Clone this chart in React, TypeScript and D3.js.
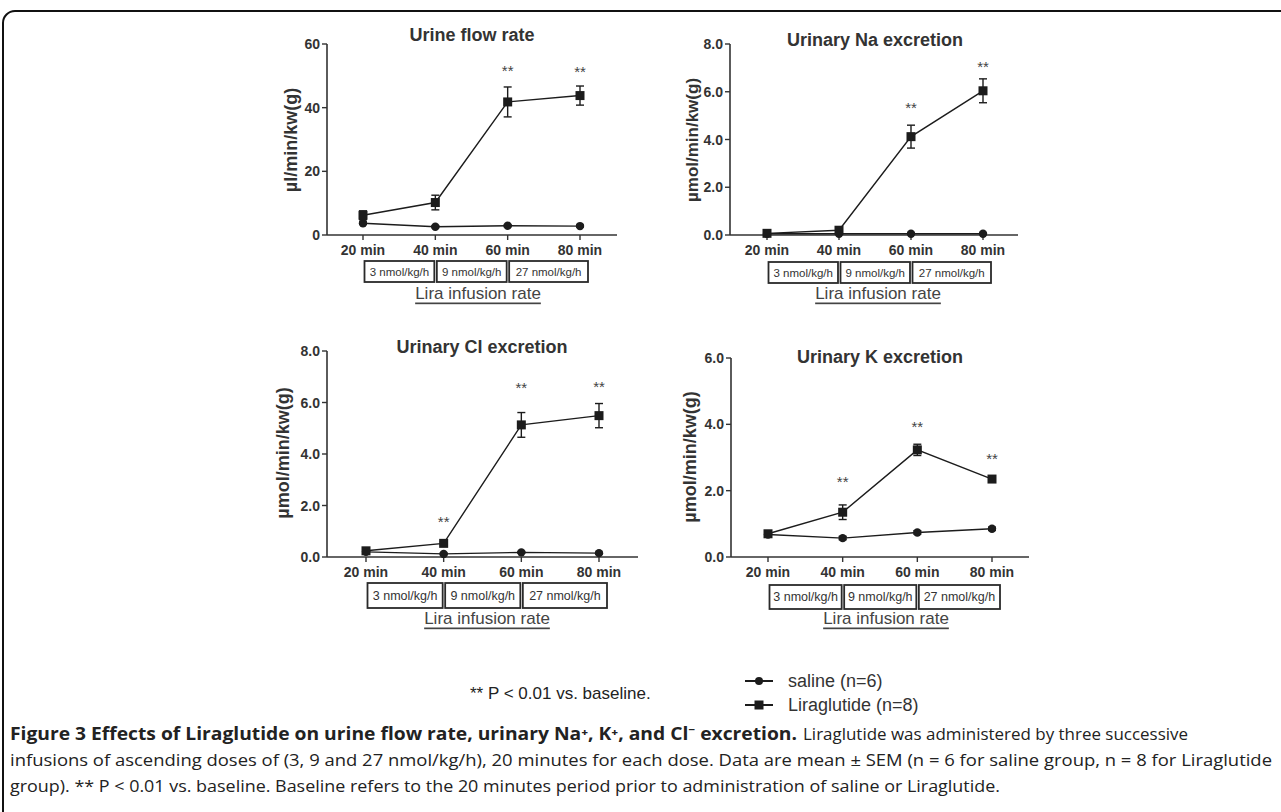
import React from 'react';
import * as d3 from 'd3';

// x categories and the dose boxes under them
const categories = ['20 min', '40 min', '60 min', '80 min'];
const doseLabels = ['3 nmol/kg/h', '9 nmol/kg/h', '27 nmol/kg/h'];

// Urine flow rate
const urineLira = [6.2, 10.2, 41.8, 43.8];
const urineLiraErr = [1.4, 2.3, 4.7, 3.0];
const urineSaline = [3.7, 2.6, 2.9, 2.8];
const urineSalineErr = [0.4, 0.3, 0.3, 0.3];
const urineStars = [null, null, 51.6, 51.3];
const urineTicks = [0, 20, 40, 60];

// Urinary Na excretion
const naLira = [0.07, 0.2, 4.12, 6.04];
const naLiraErr = [0.03, 0.05, 0.48, 0.5];
const naSaline = [0.05, 0.05, 0.05, 0.05];
const naSalineErr = [0.02, 0.02, 0.02, 0.02];
const naStars = [null, null, 5.36, 7.04];
const naTicks = [0, 2, 4, 6, 8];

// Urinary Cl excretion
const clLira = [0.24, 0.53, 5.13, 5.49];
const clLiraErr = [0.05, 0.06, 0.48, 0.47];
const clSaline = [0.2, 0.12, 0.18, 0.15];
const clSalineErr = [0.03, 0.03, 0.03, 0.03];
const clStars = [null, 1.36, 6.59, 6.64];
const clTicks = [0, 2, 4, 6, 8];

// Urinary K excretion
const kLira = [0.7, 1.35, 3.23, 2.35];
const kLiraErr = [0.08, 0.22, 0.17, 0.08];
const kSaline = [0.68, 0.57, 0.74, 0.85];
const kSalineErr = [0.08, 0.05, 0.05, 0.05];
const kStars = [null, 2.27, 3.93, 2.98];
const kTicks = [0, 2, 4, 6];

const INK = '#1c1c1c';
const TEXT = '#333';
const ARIAL = '"Liberation Sans", Arial, sans-serif';

interface PanelProps {
  title: string;
  yLabel: string;
  yTicks: number[];
  fmt: (v: number) => string;
  lira: number[];
  liraErr: number[];
  saline: number[];
  salineErr: number[];
  stars: (number | null)[];
  frame: {
    axisX: number; firstX: number; lastX: number; endX: number;
    y0: number; yTop: number;
    titleX: number; titleY: number;
    yLabelX: number; yLabelY: number; yLabelSize: number;
    boxTop: number; boxH: number; boxFont: number;
    rateX: number; rateY: number;
  };
}

function Panel({ title, yLabel, yTicks, fmt, lira, liraErr, saline, salineErr, stars, frame: f }: PanelProps) {
  const x = d3.scalePoint<string>().domain(categories).range([f.firstX, f.lastX]);
  const y = d3.scaleLinear().domain([0, yTicks[yTicks.length - 1]]).range([f.y0, f.yTop]);
  const line = d3.line<number>().x((_, i) => x(categories[i])!).y(d => y(d));

  const errBars = (vals: number[], errs: number[]) =>
    vals.map((v, i) => {
      const cx = x(categories[i])!;
      const top = y(v + errs[i]);
      const bot = y(v - errs[i]);
      return (
        <g key={i} stroke={INK} strokeWidth={1.4}>
          <line x1={cx} x2={cx} y1={top} y2={bot} />
          <line x1={cx - 4} x2={cx + 4} y1={top} y2={top} />
          <line x1={cx - 4} x2={cx + 4} y1={bot} y2={bot} />
        </g>
      );
    });

  return (
    <g>
      <text x={f.titleX} y={f.titleY} textAnchor="middle" dominantBaseline="central"
        fontFamily={ARIAL} fontWeight="bold" fontSize={18} fill={TEXT}>{title}</text>

      {/* y axis */}
      <line x1={f.axisX} x2={f.axisX} y1={f.y0} y2={f.yTop} stroke={TEXT} strokeWidth={1.6} />
      {yTicks.map(t => (
        <g key={t}>
          <line x1={f.axisX - 5} x2={f.axisX} y1={y(t)} y2={y(t)} stroke={TEXT} strokeWidth={1.4} />
          <text x={f.axisX - 7} y={y(t)} textAnchor="end" dominantBaseline="central"
            fontFamily={ARIAL} fontWeight="bold" fontSize={14} fill={TEXT}>{fmt(t)}</text>
        </g>
      ))}
      <text transform={`translate(${f.yLabelX},${f.yLabelY}) rotate(-90)`} textAnchor="middle"
        dominantBaseline="central" fontFamily={ARIAL} fontWeight="bold" fontSize={f.yLabelSize} fill={TEXT}>{yLabel}</text>

      {/* x axis */}
      <line x1={f.axisX} x2={f.endX} y1={f.y0} y2={f.y0} stroke={TEXT} strokeWidth={1.6} />
      {categories.map(c => (
        <g key={c}>
          <line x1={x(c)} x2={x(c)} y1={f.y0} y2={f.y0 + 5} stroke={TEXT} strokeWidth={1.4} />
          <text x={x(c)} y={f.y0 + 15} textAnchor="middle" dominantBaseline="central"
            fontFamily={ARIAL} fontWeight="bold" fontSize={14} fill={TEXT}>{c}</text>
        </g>
      ))}

      {/* dose boxes */}
      {doseLabels.map((d, i) => {
        const x1 = x(categories[i])! + 1.5;
        const x2 = i === doseLabels.length - 1 ? x(categories[i + 1])! + 8 : x(categories[i + 1])! - 1;
        return (
          <g key={d}>
            <rect x={x1} y={f.boxTop} width={x2 - x1} height={f.boxH} fill="#fff" stroke="#2a2a2a" strokeWidth={1.8} />
            <text x={(x1 + x2) / 2} y={f.boxTop + f.boxH / 2} textAnchor="middle" dominantBaseline="central"
              fontFamily={ARIAL} fontSize={f.boxFont} fill={TEXT}>{d}</text>
          </g>
        );
      })}
      <text x={f.rateX} y={f.rateY} textAnchor="middle" dominantBaseline="central"
        fontFamily={ARIAL} fontSize={17} fill="#444" textDecoration="underline">Lira infusion rate</text>

      {/* saline */}
      <path d={line(saline)!} fill="none" stroke={INK} strokeWidth={1.4} />
      {errBars(saline, salineErr)}
      {saline.map((v, i) => (
        <circle key={i} cx={x(categories[i])} cy={y(v)} r={4.2} fill={INK} />
      ))}

      {/* liraglutide */}
      <path d={line(lira)!} fill="none" stroke={INK} strokeWidth={1.4} />
      {errBars(lira, liraErr)}
      {lira.map((v, i) => (
        <rect key={i} x={x(categories[i])! - 4.5} y={y(v) - 4.5} width={9} height={9} fill={INK} />
      ))}

      {stars.map((s, i) => s === null ? null : (
        <text key={i} x={x(categories[i])} y={y(s)} textAnchor="middle" dominantBaseline="central"
          fontFamily={ARIAL} fontSize={15} fill="#444">**</text>
      ))}
    </g>
  );
}

const f1 = d3.format('d');
const f2 = d3.format('.1f');

export default function App() {
  return (
    <svg width={1281} height={812} style={{ position: 'absolute', left: 0, top: 0, background: '#fff' }}>
      <rect width={1281} height={812} fill="#fff" />
      <path d="M3,830 L3,23 A12,12 0 0 1 15,11 L1300,11" fill="none" stroke="#111" strokeWidth={2} />

      <Panel title="Urine flow rate" yLabel="µl/min/kw(g)" yTicks={urineTicks} fmt={f1}
        lira={urineLira} liraErr={urineLiraErr} saline={urineSaline} salineErr={urineSalineErr} stars={urineStars}
        frame={{ axisX: 327, firstX: 363, lastX: 580, endX: 617, y0: 235, yTop: 44,
          titleX: 472, titleY: 35, yLabelX: 291, yLabelY: 140, yLabelSize: 18,
          boxTop: 261, boxH: 21, boxFont: 11.5, rateX: 478, rateY: 293 }} />

      <Panel title="Urinary Na excretion" yLabel="µmol/min/kw(g)" yTicks={naTicks} fmt={f2}
        lira={naLira} liraErr={naLiraErr} saline={naSaline} salineErr={naSalineErr} stars={naStars}
        frame={{ axisX: 730, firstX: 767, lastX: 983, endX: 1018, y0: 235, yTop: 44,
          titleX: 875, titleY: 40, yLabelX: 692, yLabelY: 140, yLabelSize: 17,
          boxTop: 262, boxH: 21, boxFont: 11.5, rateX: 878, rateY: 293 }} />

      <Panel title="Urinary Cl excretion" yLabel="µmol/min/kw(g)" yTicks={clTicks} fmt={f2}
        lira={clLira} liraErr={clLiraErr} saline={clSaline} salineErr={clSalineErr} stars={clStars}
        frame={{ axisX: 327, firstX: 366, lastX: 599, endX: 638, y0: 557, yTop: 351,
          titleX: 482, titleY: 347, yLabelX: 283, yLabelY: 453, yLabelSize: 18,
          boxTop: 583, boxH: 25, boxFont: 12.5, rateX: 487, rateY: 618 }} />

      <Panel title="Urinary K excretion" yLabel="µmol/min/kw(g)" yTicks={kTicks} fmt={f2}
        lira={kLira} liraErr={kLiraErr} saline={kSaline} salineErr={kSalineErr} stars={kStars}
        frame={{ axisX: 731, firstX: 768, lastX: 992, endX: 1029, y0: 557, yTop: 358,
          titleX: 880, titleY: 357, yLabelX: 690, yLabelY: 457, yLabelSize: 18,
          boxTop: 585, boxH: 24, boxFont: 12.5, rateX: 886, rateY: 618 }} />

      {/* significance note + legend */}
      <text x={470} y={693} dominantBaseline="central" fontFamily={ARIAL} fontSize={17} fill="#222">** P &lt; 0.01 vs. baseline.</text>
      <g stroke={INK} strokeWidth={2}>
        <line x1={745} x2={773} y1={681} y2={681} />
        <line x1={745} x2={773} y1={705} y2={705} />
      </g>
      <circle cx={759} cy={681} r={4} fill={INK} />
      <rect x={754.5} y={700.5} width={9} height={9} fill={INK} />
      <text x={788} y={681} dominantBaseline="central" fontFamily={ARIAL} fontSize={18} fill="#333">saline (n=6)</text>
      <text x={788} y={705} dominantBaseline="central" fontFamily={ARIAL} fontSize={18} fill="#333">Liraglutide (n=8)</text>

      {/* caption */}
      <g fontFamily="'Open Sans', 'Noto Sans', sans-serif" fontSize={17} fill="#222">
        <text x={10} y={740} fontWeight="bold" textLength={787} lengthAdjust="spacingAndGlyphs">
          Figure 3 Effects of Liraglutide on urine flow rate, urinary Na⁺, K⁺, and Cl⁻ excretion.
        </text>
        <text x={803} y={740} textLength={385} lengthAdjust="spacingAndGlyphs">
          Liraglutide was administered by three successive
        </text>
        <text x={10} y={766} textLength={1262} lengthAdjust="spacingAndGlyphs">
          infusions of ascending doses of (3, 9 and 27 nmol/kg/h), 20 minutes for each dose. Data are mean ± SEM (n = 6 for saline group, n = 8 for Liraglutide
        </text>
        <text x={10} y={792} textLength={990} lengthAdjust="spacingAndGlyphs">
          group). ** P &lt; 0.01 vs. baseline. Baseline refers to the 20 minutes period prior to administration of saline or Liraglutide.
        </text>
      </g>
    </svg>
  );
}
